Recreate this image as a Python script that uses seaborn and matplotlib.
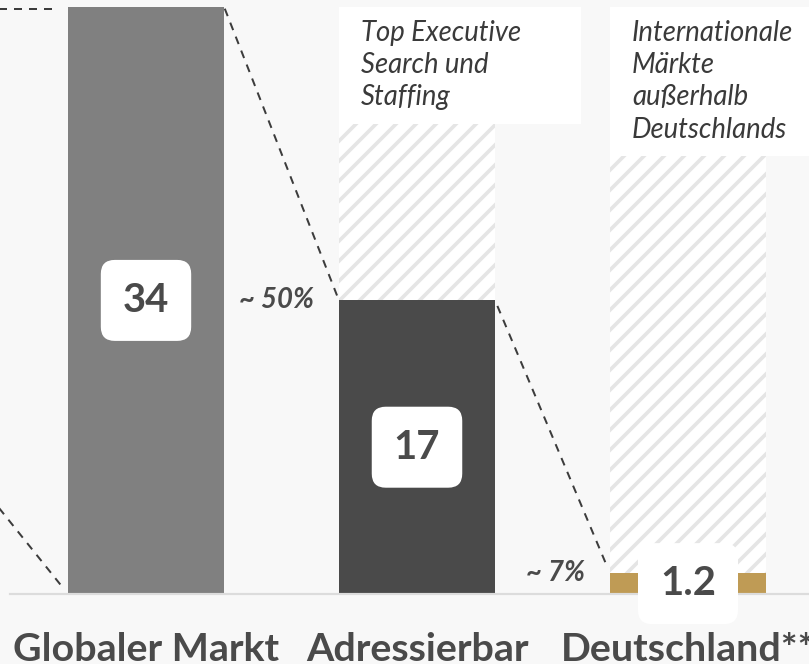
import matplotlib.pyplot as plt
import matplotlib.patches as mpatches
import pandas as pd
import seaborn as sns

categories = ["Globaler Markt", "Adressierbar", "Deutschland**"]
values = [34, 17, 1.2]
value_labels = ["34", "17", "1.2"]
share_labels = [None, "~ 50%", "~ 7%"]
notes = [None,
         "Top Executive\nSearch und\nStaffing",
         "Internationale\nMärkte\naußerhalb\nDeutschlands"]
bar_colors = ["#808080", "#4a4a4a", "#bf9b55"]
# bar left of the crop: only its connector lines are visible
offscreen_segment = 8.3

BG = "#f8f8f8"
TXT = "#4a4a4a"
W, H, DPI = 809, 664, 120
BAR_W = 0.576
PX_X = 271.0          # pixels per category step
PX_Y = 17.27          # pixels per unit

sns.set_theme(style="white")
plt.rcParams["font.family"] = ["Lato", "DejaVu Sans"]
plt.rcParams["hatch.linewidth"] = 2.2

fig = plt.figure(figsize=(W / DPI, H / DPI), dpi=DPI, facecolor=BG)
ax = fig.add_axes([10 / W, 70 / H, 1 - 10 / W, 594 / H])
ax.set_facecolor(BG)

df = pd.DataFrame({"category": categories, "value": values})
ref = pd.DataFrame({"category": categories[1:], "value": [values[0]] * 2})

# hatched remainder behind the sub-market bars
sns.barplot(data=ref, x="category", y="value", order=categories, color="white",
            saturation=1, width=BAR_W, hatch="//", edgecolor="#e5e5e5",
            linewidth=0, ax=ax, zorder=1)
sns.barplot(data=df, x="category", y="value", order=categories, hue="category",
            palette=bar_colors, saturation=1, width=BAR_W, linewidth=0,
            legend=False, ax=ax, zorder=2)

ax.set_xlim(-136 / PX_X, (809 - 146) / PX_X)
ax.set_ylim(0, 594 / PX_Y)
ax.set_xlabel("")
ax.set_ylabel("")
ax.set_yticks([])
sns.despine(ax=ax, left=True)
ax.spines["bottom"].set_color("#dcdcdc")
ax.spines["bottom"].set_linewidth(1.3)
ax.tick_params(axis="x", length=0, pad=23)
for lab in ax.get_xticklabels():
    lab.set_fontsize(23.6)
    lab.set_fontweight("bold")
    lab.set_color(TXT)

half = BAR_W / 2
dash = dict(color="#3c3c3c", lw=1.2, ls=(0, (4, 3.5)), clip_on=False, zorder=3)


def connect(x0, y0, x1, y1, trim=4):
    # trim a few pixels off each end
    dxp, dyp = (x1 - x0) * PX_X, (y1 - y0) * PX_Y
    n = (dxp ** 2 + dyp ** 2) ** 0.5
    f = trim / n
    ax.plot([x0 + (x1 - x0) * f, x1 - (x1 - x0) * f],
            [y0 + (y1 - y0) * f, y1 - (y1 - y0) * f], **dash)


# lines coming from the bar left of the crop
ax.plot([-1 + half, -half - 11 / PX_X], [values[0] - 0.1] * 2, **dash)
connect(-1 + half, offscreen_segment, -half, 0, trim=10)
for i in range(len(values) - 1):
    connect(i + half, values[i], i + 1 - half, values[i + 1], trim=2 + 4 * i)

# value boxes
for i, (v, lab) in enumerate(zip(values, value_labels)):
    ax.text(i, v / 2, lab, ha="center", va="center", fontsize=24,
            fontweight="bold", color=TXT, zorder=6,
            bbox=dict(boxstyle="round,pad=0.55,rounding_size=0.35",
                      fc="white", ec="none"))

# share labels
for i, s in enumerate(share_labels):
    if s:
        ax.text(i - half - 25 / PX_X, values[i], s, ha="right", va="center",
                fontsize=16.5, fontweight="bold", style="italic", color=TXT,
                zorder=5)

# note boxes on top of hatched bars
for i, note in enumerate(notes):
    if not note:
        continue
    n_lines = note.count("\n") + 1
    h = (n_lines * 32 + 21) / PX_Y
    ax.add_patch(mpatches.Rectangle((i - half, values[0] - h), 242 / PX_X, h,
                                    fc="white", ec="none", zorder=4,
                                    clip_on=False))
    ax.text(i - half + 22 / PX_X, values[0] - 13 / PX_Y, note, ha="left",
            va="top", fontsize=16.5, style="italic", fontweight="normal",
            color="#3a3a3a", linespacing=1.3, zorder=5)

fig.savefig("out.png", dpi=DPI, facecolor=BG)
